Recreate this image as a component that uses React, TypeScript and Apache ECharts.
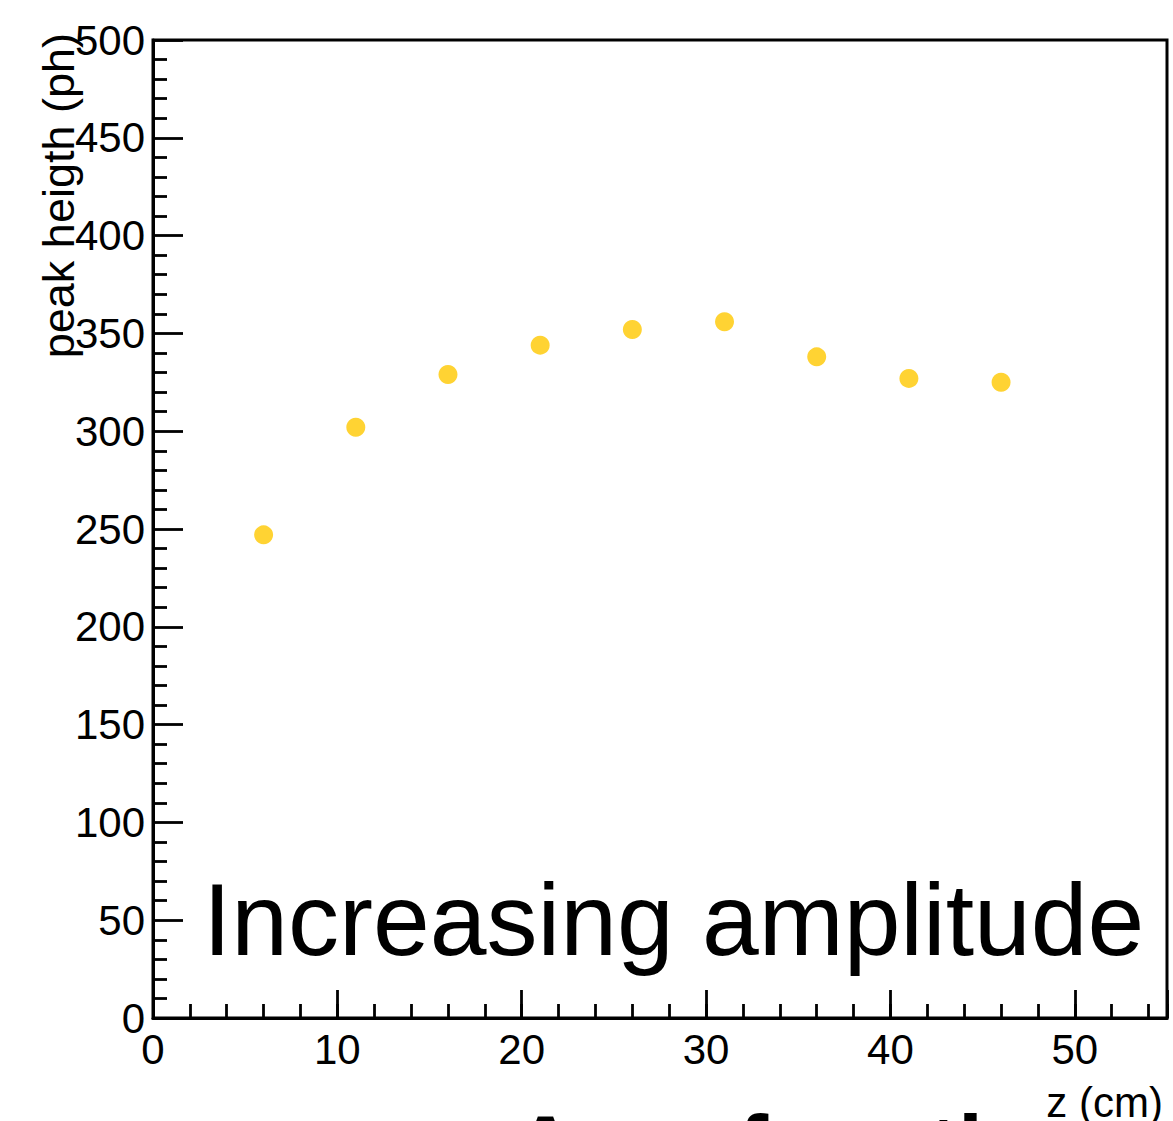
import React, { useEffect, useRef } from "react";
import * as echarts from "echarts";

const zValues = [6, 11, 16, 21, 26, 31, 36, 41, 46];
const peakHeights = [247, 302, 329, 344, 352, 356, 338, 327, 325];
const xTitle = "z (cm)";
const yTitle = "peak heigth (ph)";
const overlayText = "Increasing amplitude";
const bottomText = "Area function";

export default function App() {
  const ref = useRef<HTMLDivElement>(null);
  useEffect(() => {
    if (!ref.current) return;
    const chart = echarts.init(ref.current, null, { renderer: "svg" });
    const font = "Liberation Sans, Arial, Helvetica, sans-serif";
    const data = zValues.map((z, i) => [z, peakHeights[i]]);
    chart.setOption({
      animation: false,
      backgroundColor: "#ffffff",
      grid: {
        left: 153,
        top: 40,
        width: 1014,
        height: 978,
        show: true,
        borderColor: "#000",
        borderWidth: 3,
        backgroundColor: "transparent",
      },
      xAxis: [
        {
          type: "value",
          min: 0,
          max: 55,
          interval: 10,
          axisLine: { show: true, onZero: false, lineStyle: { color: "#000", width: 3 } },
          axisTick: { show: true, inside: true, length: 28, lineStyle: { color: "#000", width: 2.8 } },
          axisLabel: {
            show: true,
            color: "#000",
            fontFamily: font,
            fontSize: 42,
            margin: 10,
            formatter: (v: number) => (v === 55 ? "" : String(v)),
          },
          splitLine: { show: false },
        },
        {
          type: "value",
          min: 0,
          max: 55,
          interval: 2,
          position: "bottom",
          axisLine: { show: false },
          axisTick: { show: true, inside: true, length: 14, lineStyle: { color: "#000", width: 2.8 } },
          axisLabel: { show: false },
          splitLine: { show: false },
        },
      ],
      yAxis: {
        type: "value",
        min: 0,
        max: 500,
        interval: 50,
        axisLine: { show: true, onZero: false, lineStyle: { color: "#000", width: 3 } },
        axisTick: { show: true, inside: true, length: 30, lineStyle: { color: "#000", width: 2.8 } },
        minorTick: { show: true, splitNumber: 5, length: 14, lineStyle: { color: "#000", width: 2.8 } },
        axisLabel: { color: "#000", fontFamily: font, fontSize: 42, margin: 8 },
        splitLine: { show: false },
      },
      series: [
        {
          type: "scatter",
          xAxisIndex: 0,
          data,
          symbol: "circle",
          symbolSize: 19,
          itemStyle: { color: "#FFC800" },
        },
      ],
      graphic: [
        {
          type: "text",
          x: 58,
          y: 33,
          rotation: Math.PI / 2,
          style: {
            text: yTitle,
            font: `45px ${font}`,
            fill: "#000",
            align: "right",
            verticalAlign: "middle",
          },
        },
        {
          type: "text",
          x: 1163,
          y: 1102,
          style: {
            text: xTitle,
            font: `42px ${font}`,
            fill: "#000",
            align: "right",
            verticalAlign: "middle",
          },
        },
        {
          type: "text",
          x: 203,
          y: 920,
          style: {
            text: overlayText,
            font: `102px ${font}`,
            fill: "#000",
            align: "left",
            verticalAlign: "middle",
          },
        },
        {
          type: "text",
          x: 513,
          y: 1148,
          style: {
            text: bottomText,
            font: `bold 90px ${font}`,
            fill: "#000",
            align: "left",
            verticalAlign: "middle",
          },
        },
      ],
    });
    return () => chart.dispose();
  }, []);
  return (
    <div
      ref={ref}
      style={{ position: "fixed", left: 0, top: 0, width: 1173, height: 1121, background: "#fff" }}
    />
  );
}
